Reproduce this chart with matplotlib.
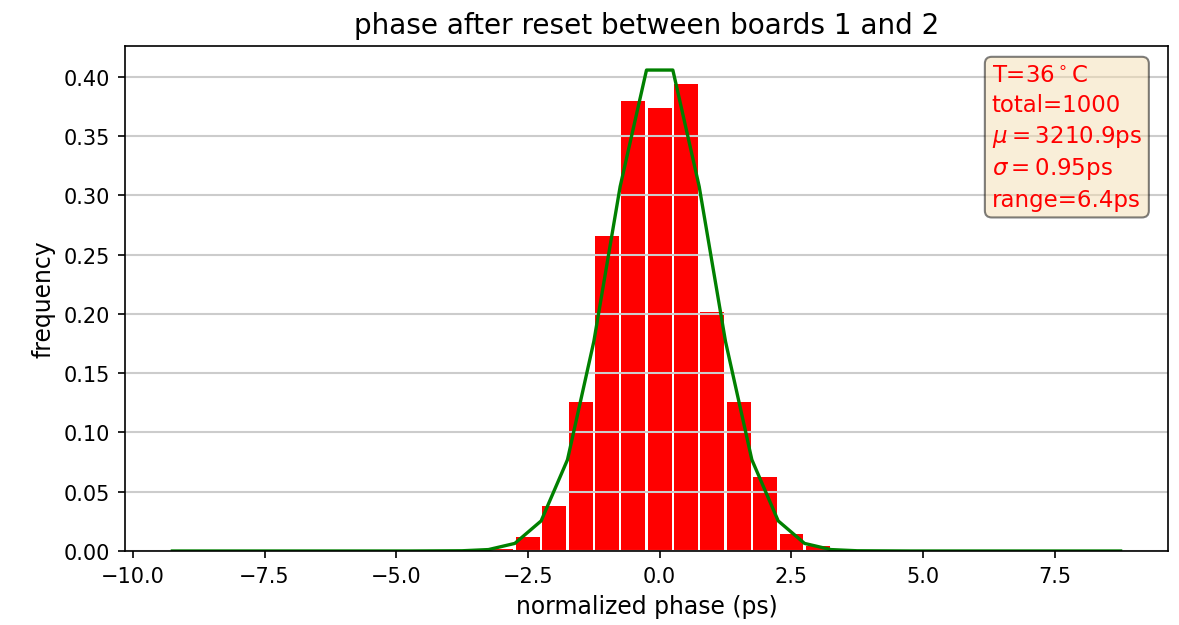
import matplotlib
matplotlib.use("Agg")
import matplotlib.pyplot as plt

# histogram bins (centers, ps) and normalized frequencies
bin_centers = [-3.0, -2.5, -2.0, -1.5, -1.0, -0.5, 0.0, 0.5, 1.0, 1.5, 2.0, 2.5, 3.0]
bin_heights = [0.002, 0.012, 0.038, 0.126, 0.266, 0.380, 0.374, 0.394, 0.202, 0.126, 0.062, 0.014, 0.004]

# fitted normal curve
curve_x = [-9.25, -8.75, -8.25, -7.75, -7.25, -6.75, -6.25, -5.75, -5.25, -4.75, -4.25,
           -3.75, -3.25, -2.75, -2.25, -1.75, -1.25, -0.75, -0.25,
           0.25, 0.75, 1.25, 1.75, 2.25, 2.75, 3.25, 3.75,
           4.25, 4.75, 5.25, 5.75, 6.25, 6.75, 7.25, 7.75, 8.25, 8.75]
curve_y = [0.0, 0.0, 0.0, 0.0, 0.0, 0.0, 0.0, 0.0, 0.0, 0.0, 0.0001,
           0.0002, 0.0012, 0.0064, 0.0254, 0.0770, 0.1767, 0.3075, 0.4057,
           0.4057, 0.3075, 0.1767, 0.0770, 0.0254, 0.0064, 0.0012, 0.0002,
           0.0001, 0.0, 0.0, 0.0, 0.0, 0.0, 0.0, 0.0, 0.0, 0.0]

info_lines = ["T=36$^\\circ$C", "total=1000", "$\\mu=$3210.9ps", "$\\sigma=$0.95ps", "range=6.4ps"]

fig = plt.figure(figsize=(1179 / 150, 626 / 150), dpi=150)
ax = fig.add_axes([125 / 1179, 1 - 552 / 626, (1168 - 125) / 1179, (552 - 47) / 626])

ax.bar(bin_centers, bin_heights, width=0.45, color="red")
ax.plot(curve_x, curve_y, color="green", linewidth=1.6)
ax.set_ylim(bottom=0)
ax.grid(axis="y", color="0.8", linewidth=1.0)
ax.set_title("phase after reset between boards 1 and 2", fontsize=13.4)
ax.set_xlabel("normalized phase (ps)", fontsize=11.3)
ax.set_ylabel("frequency", fontsize=11.3)
ax.text(0.831, 0.965, "\n".join(info_lines), transform=ax.transAxes, va="top", ha="left",
        color="red", fontsize=11, linespacing=1.35,
        bbox=dict(boxstyle="round", facecolor="wheat", alpha=0.5))

fig.savefig("out.png", dpi=150)
